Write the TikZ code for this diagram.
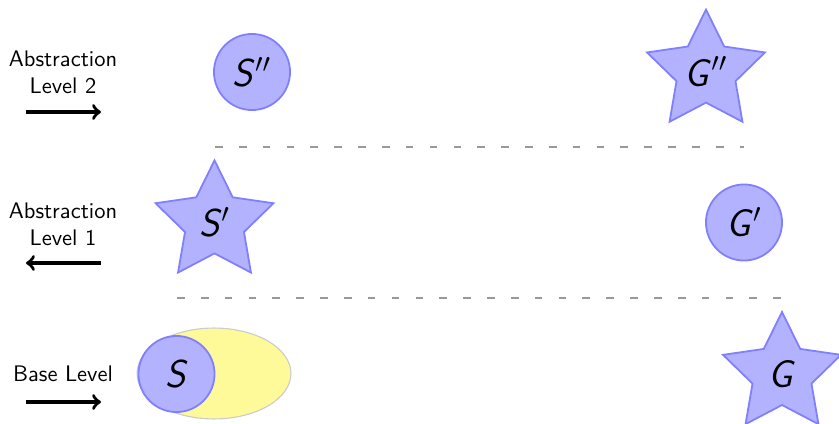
\documentclass[tikz,border=0pt]{standalone}
\usetikzlibrary{shapes.geometric}
\newcommand{\sym}[2]{\textsf{\textit{#1}}\ensuremath{#2}}
\begin{document}
\begin{tikzpicture}[x=0.4444pt,y=-0.4444pt,
  state/.style={circle,draw=blue!50,fill=blue!30,line width=0.8pt,minimum size=33.8pt,inner sep=0pt,font=\LARGE},
  goalstar/.style={star,star points=5,star point ratio=2,draw=blue!50,fill=blue!30,line width=0.8pt,minimum size=55.1pt,inner sep=0pt,font=\LARGE},
  lvl/.style={align=center,font=\sffamily},
  sep/.style={draw=gray!80,dash pattern=on 3.4pt off 7.2pt,line width=0.5pt},
  dir/.style={->,line width=1.5pt}]
\useasboundingbox (0,0) rectangle (839,424);
% labels
\node[lvl] (l2) at (63,72) {Abstraction\\Level 2};
\node[lvl] (l1) at (63,224) {Abstraction\\Level 1};
\node[lvl] (l0) at (63,374) {Base Level};
\coordinate (a2s) at (26,112); \coordinate (a2e) at (101,112);
\coordinate (a1s) at (101,263); \coordinate (a1e) at (26,263);
\coordinate (a0s) at (26,402); \coordinate (a0e) at (101,402);
\draw[dir] (a2s) -- (a2e);
\draw[dir] (a1s) -- (a1e);
\draw[dir] (a0s) -- (a0e);
% separators
\coordinate (d1a) at (215,147); \coordinate (d1b) at (744,147);
\coordinate (d2a) at (177,298); \coordinate (d2b) at (782,298);
\draw[sep] (d1a) -- (d1b);
\draw[sep] (d2a) -- (d2b);
% level 2
\node[state] (s2) at (252,72) {\sym{S}{''}};
\node[goalstar] (g2) at (706,71.6) {\sym{G}{''}};
% level 1
\node[goalstar] (s1) at (214.5,222.4) {\sym{S}{'}};
\node[state] (g1) at (744,222.5) {\sym{G}{'}};
% base
\node[ellipse,draw=gray!40,fill=yellow!40,line width=0.5pt,minimum width=68.4pt,minimum height=40.4pt,inner sep=0pt] (reg) at (214,373.5) {};
\node[state] (s0) at (176.5,374) {\sym{S}{}};
\node[goalstar] (g0) at (782,374) {\sym{G}{}};
\end{tikzpicture}
\end{document}
